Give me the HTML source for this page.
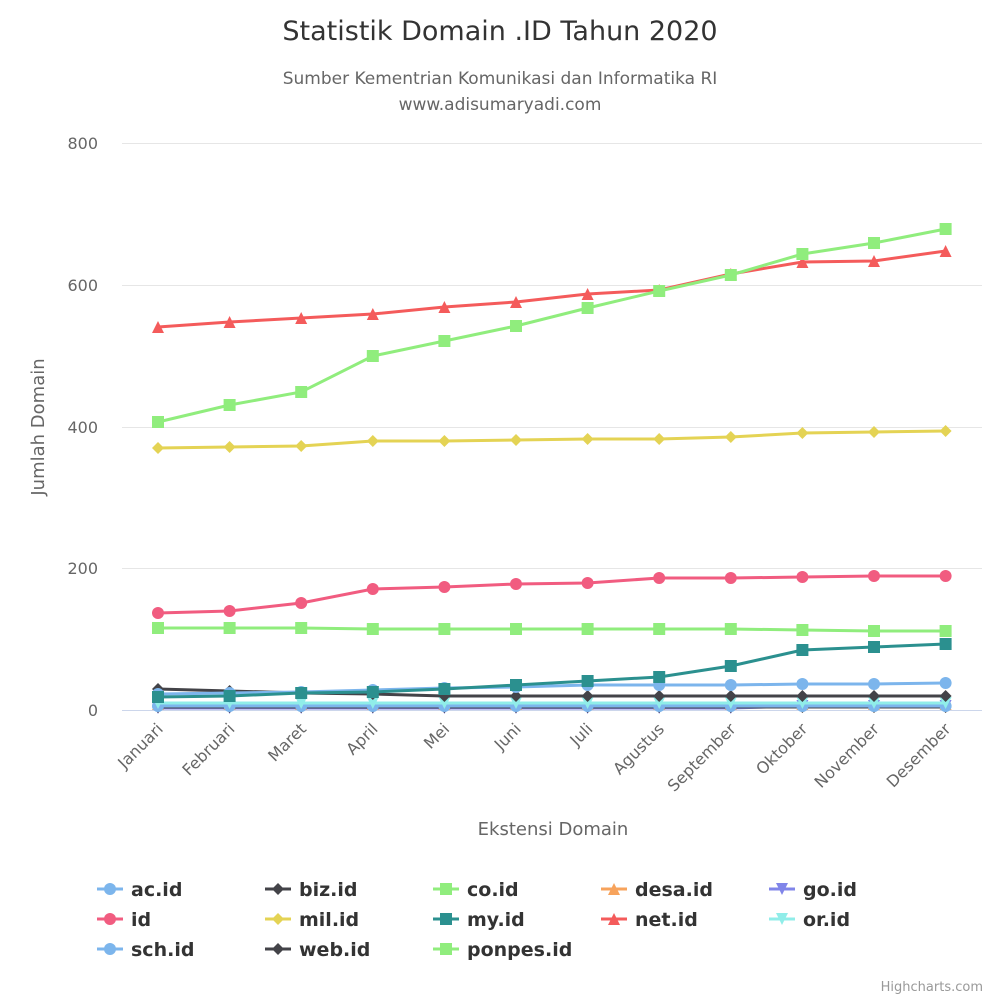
<!DOCTYPE html>
<html><head><meta charset="utf-8"><style>
html,body{margin:0;padding:0;background:#fff;}
svg{display:block;font-family:"DejaVu Sans","Liberation Sans",sans-serif;}
</style></head><body>
<svg id="c" width="1000" height="1000" viewBox="0 0 1000 1000" xmlns="http://www.w3.org/2000/svg">
<rect width="1000" height="1000" fill="#fff"/>
<text x="500" y="40" text-anchor="middle" font-size="27" fill="#333">Statistik Domain .ID Tahun 2020</text>
<text x="500" y="84" text-anchor="middle" font-size="17" fill="#666">Sumber Kementrian Komunikasi dan Informatika RI</text>
<text x="500" y="110" text-anchor="middle" font-size="17" fill="#666">www.adisumaryadi.com</text>
<g stroke="#e6e6e6" stroke-width="1">
<line x1="122" x2="982" y1="143.5" y2="143.5"/>
<line x1="122" x2="982" y1="285.5" y2="285.5"/>
<line x1="122" x2="982" y1="427.5" y2="427.5"/>
<line x1="122" x2="982" y1="568.5" y2="568.5"/>
</g>
<line x1="122" x2="982" y1="710.5" y2="710.5" stroke="#ccd6eb"/>
<g font-size="16" fill="#666" text-anchor="end">
<text x="98" y="149">800</text><text x="98" y="291">600</text><text x="98" y="433">400</text><text x="98" y="574">200</text><text x="98" y="716">0</text>
</g>
<text transform="translate(44,427) rotate(-90)" text-anchor="middle" font-size="18" fill="#666">Jumlah Domain</text>
<text x="553" y="835" text-anchor="middle" font-size="18" fill="#666">Ekstensi Domain</text>
<g id="xl" font-size="16" fill="#666"></g>
<g id="series"></g>
<g id="legend" font-size="19" font-weight="bold" fill="#333"></g>
<text x="983" y="991" text-anchor="end" font-size="13" fill="#999">Highcharts.com</text>
</svg>
<script>
var NS="http://www.w3.org/2000/svg";
function el(t,a,p){var e=document.createElementNS(NS,t);for(var k in a)e.setAttribute(k,a[k]);(p||document.getElementById('series')).appendChild(e);return e;}
var months=["Januari","Februari","Maret","April","Mei","Juni","Juli","Agustus","September","Oktober","November","Desember"];
var X=months.map(function(_,i){return 158+i*71.6;});
var xl=document.getElementById('xl');
months.forEach(function(m,i){var t=el('text',{transform:'translate('+(X[i]+6)+',730) rotate(-45)','text-anchor':'end'},xl);t.textContent=m;});
function marker(type,x,y,c,p,r){r=r||6;
 if(type=='circle')el('circle',{cx:x,cy:y,r:r,fill:c},p);
 else if(type=='diamond')el('path',{d:'M'+x+' '+(y-r)+'L'+(x+r)+' '+y+'L'+x+' '+(y+r)+'L'+(x-r)+' '+y+'Z',fill:c},p);
 else if(type=='square')el('rect',{x:x-r,y:y-r,width:2*r,height:2*r,fill:c},p);
 else if(type=='tri')el('path',{d:'M'+x+' '+(y-r)+'L'+(x+r)+' '+(y+r)+'L'+(x-r)+' '+(y+r)+'Z',fill:c},p);
 else if(type=='tridown')el('path',{d:'M'+x+' '+(y+r)+'L'+(x+r)+' '+(y-r)+'L'+(x-r)+' '+(y-r)+'Z',fill:c},p);
}
var S=[
 ["go.id","#8085e9","tridown",[708,708,708,708,708,708,708,708,708,706,706,706]],
 ["desa.id","#f7a35c","tri",[704,704,704,704,704,704,704,704,704,704,704,704]],
 ["web.id","#434348","diamond",[707,707,707,707,707,707,707,707,707,707,707,707]],
 ["sch.id","#7cb5ec","circle",[706,706,706,706,706,706,706,706,706,706,706,706]],
 ["or.id","#90ede9","tridown",[703,703,703,703,703,703,703,703,703,703,703,703]],
 ["biz.id","#434348","diamond",[689,691,693,694,696,696,696,696,696,696,696,696]],
 ["ac.id","#7cb5ec","circle",[694,693,692,690,688,687,685,685,685,684,684,683]],
 ["my.id","#2b908f","square",[697,696,693,692,689,685,681,677,666,650,647,644]],
 ["ponpes.id","#90ed7d","square",[628,628,628,629,629,629,629,629,629,630,631,631]],
 ["id","#f15c80","circle",[613,611,603,589,587,584,583,578,578,577,576,576]],
 ["mil.id","#e4d354","diamond",[448,447,446,441,441,440,439,439,437,433,432,431]],
 ["net.id","#f45b5b","tri",[327,322,318,314,307,302,294,290,274,262,261,251]],
 ["co.id","#90ed7d","square",[422,405,392,356,341,326,308,291,275,254,243,229]]
];
S.forEach(function(s){
 var d=s[3].map(function(y,i){return (i?'L':'M')+X[i]+' '+y;}).join('');
 el('path',{d:d,fill:'none',stroke:s[1],'stroke-width':3});
 s[3].forEach(function(y,i){marker(s[2],X[i],y,s[1]);});
});
var L=[["ac.id","#7cb5ec","circle"],["biz.id","#434348","diamond"],["co.id","#90ed7d","square"],["desa.id","#f7a35c","tri"],["go.id","#8085e9","tridown"],
["id","#f15c80","circle"],["mil.id","#e4d354","diamond"],["my.id","#2b908f","square"],["net.id","#f45b5b","tri"],["or.id","#90ede9","tridown"],
["sch.id","#7cb5ec","circle"],["web.id","#434348","diamond"],["ponpes.id","#90ed7d","square"]];
var lg=document.getElementById('legend');
L.forEach(function(l,i){var cx=97+(i%5)*168,cy=889+Math.floor(i/5)*30;
 el('line',{x1:cx,x2:cx+26,y1:cy,y2:cy,stroke:l[1],'stroke-width':3},lg);
 marker(l[2],cx+13,cy,l[1],lg,6);
 var t=el('text',{x:cx+34,y:cy+7},lg);t.textContent=l[0];});
</script>
</body></html>
